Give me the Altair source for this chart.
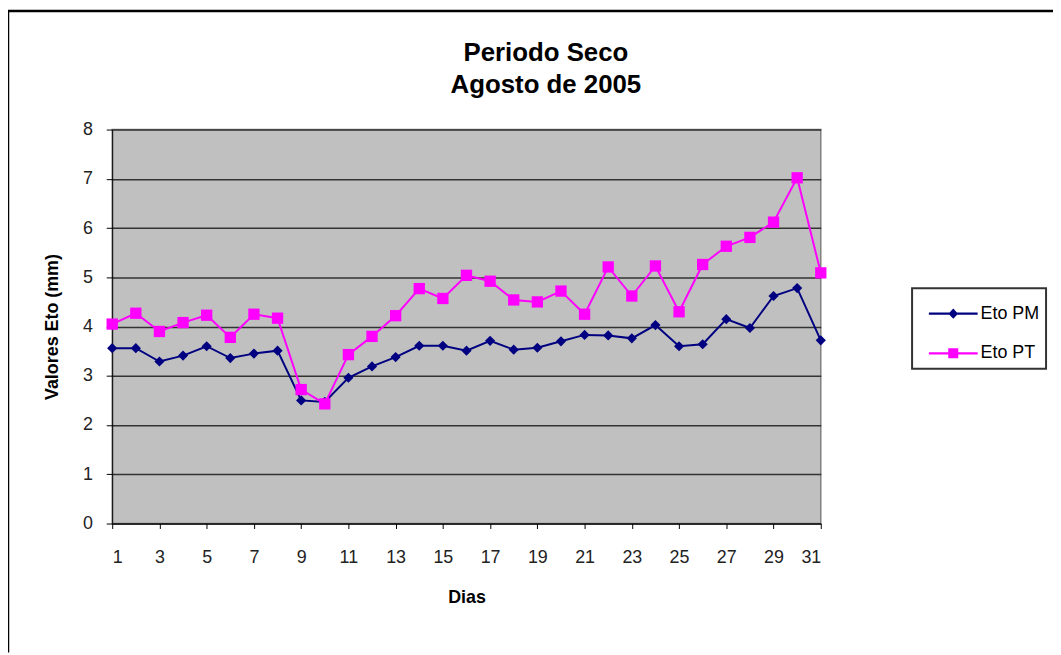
import altair as alt
import pandas as pd

days = list(range(1, 32))
eto_pm = [3.56, 3.56, 3.29, 3.41, 3.60, 3.36, 3.45, 3.51, 2.50, 2.47,
          2.96, 3.19, 3.38, 3.61, 3.61, 3.51, 3.71, 3.53, 3.57, 3.70,
          3.83, 3.82, 3.76, 4.03, 3.60, 3.64, 4.15, 3.97, 4.62, 4.78, 3.72]
eto_pt = [4.05, 4.27, 3.90, 4.08, 4.23, 3.78, 4.25, 4.17, 2.72, 2.43,
          3.43, 3.80, 4.22, 4.77, 4.57, 5.04, 4.92, 4.54, 4.50, 4.72,
          4.25, 5.21, 4.62, 5.23, 4.30, 5.26, 5.63, 5.81, 6.12, 7.02, 5.09]
series_names = ["Eto PM", "Eto PT"]
series_colors = ["#000080", "#FF00FF"]
title_lines = ["Periodo Seco", "Agosto de 2005"]
x_title = "Dias"
y_title = "Valores Eto (mm)"
y_ticks = list(range(0, 9))

df = pd.DataFrame({
    "dia": days * 2,
    "valor": eto_pm + eto_pt,
    "serie": [series_names[0]] * len(days) + [series_names[1]] * len(days),
})

FONT = "Liberation Sans"

x_enc = alt.X(
    "dia:Q",
    scale=alt.Scale(domain=[1, 31], nice=False, zero=False),
    axis=alt.Axis(
        title=x_title, values=days, grid=False,
        labelExpr="datum.value % 2 == 1 ? datum.label : ''",
        tickSize=5, labelPadding=20, titlePadding=23,
        domainColor="#000", tickColor="#000",
    ),
)
y_enc = alt.Y(
    "valor:Q",
    scale=alt.Scale(domain=[0, 8], nice=False),
    axis=alt.Axis(
        title=y_title, values=y_ticks, grid=True,
        tickSize=6, labelPadding=14, titlePadding=21,
        domainColor="#000", tickColor="#000",
        gridColor="#333333", gridWidth=1.5,
    ),
)

base = alt.Chart(df)

def series_layers(name, color, shape, size):
    sub = base.transform_filter(alt.datum.serie == name)
    line = sub.mark_line(color=color, strokeWidth=2).encode(x=x_enc, y=y_enc)
    pts = sub.mark_point(filled=True, opacity=1, color=color, shape=shape, size=size).encode(x="dia:Q", y="valor:Q")
    return line + pts

pm = series_layers(series_names[0], series_colors[0], "diamond", 105)
pt = series_layers(series_names[1], series_colors[1], "square", 130)

line_d = "M-1.26,-0.055H1.26V0.055H-1.26Z M-0.25,0L0,-0.27L0.25,0L0,0.27Z"
line_s = "M-1.26,-0.055H1.26V0.055H-1.26Z M-0.26,-0.26H0.26V0.26H-0.26Z"

pad_expr = "datum.label + '\u00a0\u00a0\u00a0\u00a0'"

legend_layer = base.transform_filter("false").mark_point(filled=True, opacity=1).encode(
    x="dia:Q", y="valor:Q",
    color=alt.Color("serie:N", scale=alt.Scale(domain=series_names, range=series_colors),
                    legend=alt.Legend(title=None, labelExpr=pad_expr)),
    shape=alt.Shape("serie:N", scale=alt.Scale(domain=series_names, range=[line_d, line_s]),
                    legend=alt.Legend(title=None, labelExpr=pad_expr)),
)

frame_df = pd.DataFrame({"k": [0]})
frame_top = alt.Chart(frame_df).mark_rule(color="#000", strokeWidth=2.5).encode(
    x=alt.value(-105), x2=alt.value(948), y=alt.value(-119.5))
frame_left = alt.Chart(frame_df).mark_rule(color="#000", strokeWidth=1.5).encode(
    x=alt.value(-104.5), y=alt.value(-120), y2=alt.value(527))

chart = alt.layer(pm, pt, legend_layer, frame_top, frame_left).properties(
    width=714,
    height=397,
    title=alt.TitleParams(
        text=title_lines, font=FONT, fontSize=26, fontWeight="bold",
        color="#000", anchor="middle", dx=80, dy=123, offset=34, lineHeight=32,
    ),
    autosize=alt.AutoSizeParams(type="none"),
    padding={"left": 105, "top": 120, "right": 234, "bottom": 130},
).configure(
    background="white",
).configure_view(
    fill="#C0C0C0", stroke="#808080", strokeWidth=1.5,
).configure_axis(
    labelFont=FONT, labelFontSize=18, labelColor="#222",
    titleFont=FONT, titleFontSize=18, titleFontWeight="bold", titleColor="#000",
).configure_legend(
    orient="none", legendX=806, legendY=160,
    strokeColor="#333", strokeWidth=2, fillColor="white",
    padding=6, symbolOffset=16, labelOffset=8, rowPadding=11,
    symbolSize=1521, symbolStrokeWidth=0,
    labelFont=FONT, labelFontSize=18, labelColor="#000",
    labelLimit=300,
)

chart.save("out.html", embed_options={"renderer": "svg", "actions": False})
